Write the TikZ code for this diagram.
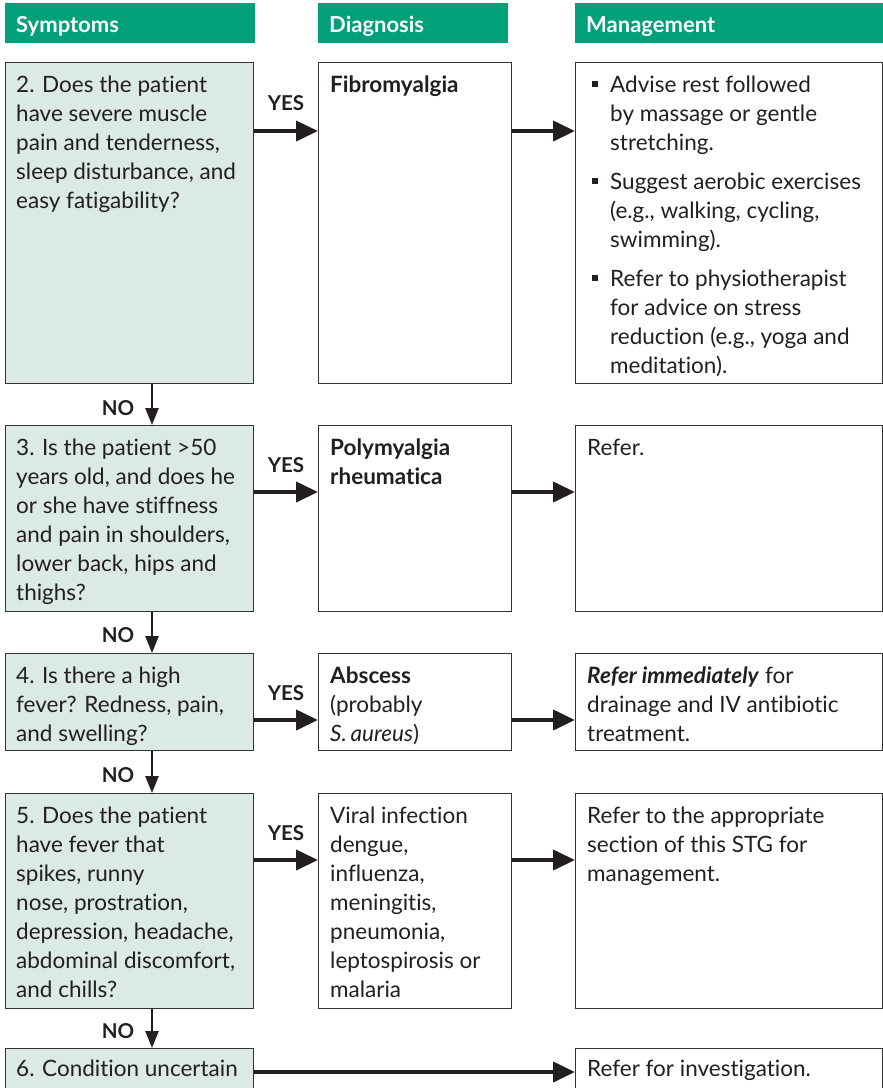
\documentclass[tikz,border=0pt]{standalone}
\usepackage{fontspec}
\setmainfont{Lato}[Ligatures={NoCommon,NoContextual}]
\usetikzlibrary{arrows.meta}
\definecolor{hdrgreen}{HTML}{00A07A}
\definecolor{symfill}{HTML}{DCEAE4}
\definecolor{edge}{HTML}{333333}
\definecolor{ink}{HTML}{231F20}
\newcommand{\bul}[1]{\makebox[18pt][l]{\raisebox{5pt}{\rule{6pt}{6pt}}}\begin{tabular}[t]{@{}l@{}}#1\end{tabular}}
\begin{document}
\begin{tikzpicture}[x=1pt,y=-1pt,
  hdr/.style={fill=hdrgreen, anchor=north west, text=white, inner xsep=11pt, inner ysep=0pt,
    minimum height=40pt, text height=18pt, text depth=0pt, align=left,
    font=\bfseries\fontsize{22}{25}\selectfont},
  symbox/.style={draw=edge, fill=symfill, line width=1pt, anchor=north west, inner sep=0pt},
  whitebox/.style={draw=edge, fill=white, line width=1pt, anchor=north west, inner sep=0pt},
  txt/.style={anchor=north west, inner xsep=11pt, inner ysep=13.5pt, align=left, text=ink,
    font=\fontsize{22.5}{29}\selectfont},
  yesarrow/.style={draw=ink, line width=4pt, -{Triangle[length=22pt,width=20pt]}},
  noarrow/.style={draw=ink, line width=2.5pt, -{Triangle[length=17pt,width=13pt]}},
  lbl/.style={text=ink, font=\bfseries\fontsize{20.5}{22}\selectfont, inner sep=0pt}
]
\useasboundingbox (0,0) rectangle (883,1088);

% column headers
\node[hdr, text width=228pt] (h1) at (5,3) {Symptoms};
\node[hdr, text width=168pt] (h2) at (318,3) {Diagnosis};
\node[hdr, text width=286pt] (h3) at (575,3) {Management};

% guides for arrow heights and the vertical NO arrows
\coordinate (nx) at (152,0);
\coordinate (a1) at (0,131);
\coordinate (a2) at (0,492);
\coordinate (a3) at (0,720);
\coordinate (a4) at (0,860);
\coordinate (a5) at (0,1072);

% row 1
\node[symbox, minimum width=248pt, minimum height=321pt] (s1) at (5,62) {};
\node[whitebox, minimum width=193pt, minimum height=321pt] (d1) at (318,62) {};
\node[whitebox, minimum width=307pt, minimum height=321pt] (m1) at (575,62) {};
\node[txt] (s1t) at (s1.north west) {2. Does the patient\\have severe muscle\\pain and tenderness,\\sleep disturbance, and\\easy fatigability?};
\node[txt, inner xsep=12pt] (d1t) at (d1.north west) {\textbf{Fibromyalgia}};
\node[txt, inner xsep=17pt, inner ysep=9.5pt] (m1t) at (m1.north west) {\bul{Advise rest followed\\by massage or gentle\\stretching.}\\[9pt]\bul{Suggest aerobic exercises\\(e.g., walking, cycling,\\swimming).}\\[9pt]\bul{Refer to physiotherapist\\for advice on stress\\reduction (e.g., yoga and\\meditation).}};

% row 2
\node[symbox, minimum width=248pt, minimum height=186pt] (s2) at (5,425) {};
\node[whitebox, minimum width=193pt, minimum height=186pt] (d2) at (318,425) {};
\node[whitebox, minimum width=307pt, minimum height=186pt] (m2) at (575,425) {};
\node[txt] (s2t) at (s2.north west) {3. Is the patient >50\\years old, and does he\\or she have stiffness\\and pain in shoulders,\\lower back, hips and\\thighs?};
\node[txt, inner xsep=12pt] (d2t) at (d2.north west) {\textbf{Polymyalgia}\\\textbf{rheumatica}};
\node[txt, inner xsep=12pt] (m2t) at (m2.north west) {Refer.};

% row 3
\node[symbox, minimum width=248pt, minimum height=97pt] (s3) at (5,653) {};
\node[whitebox, minimum width=193pt, minimum height=97pt] (d3) at (318,653) {};
\node[whitebox, minimum width=307pt, minimum height=97pt] (m3) at (575,653) {};
\node[txt] (s3t) at (s3.north west) {4. Is there a high\\fever? Redness, pain,\\and swelling?};
\node[txt, inner xsep=12pt] (d3t) at (d3.north west) {\textbf{Abscess}\\(probably\\\textit{S.\,aureus})};
\node[txt, inner xsep=12pt] (m3t) at (m3.north west) {\textbf{\textit{Refer immediately}} for\\drainage and IV antibiotic\\treatment.};

% row 4
\node[symbox, minimum width=248pt, minimum height=215pt] (s4) at (5,793) {};
\node[whitebox, minimum width=193pt, minimum height=215pt] (d4) at (318,793) {};
\node[whitebox, minimum width=307pt, minimum height=215pt] (m4) at (575,793) {};
\node[txt] (s4t) at (s4.north west) {5. Does the patient\\have fever that\\spikes, runny\\nose, prostration,\\depression, headache,\\abdominal discomfort,\\and chills?};
\node[txt, inner xsep=12pt] (d4t) at (d4.north west) {Viral infection\\dengue,\\influenza,\\meningitis,\\pneumonia,\\leptospirosis or\\malaria};
\node[txt, inner xsep=12pt] (m4t) at (m4.north west) {Refer to the appropriate\\section of this STG for\\management.};

% row 5
\node[symbox, minimum width=248pt, minimum height=80pt] (s5) at (5,1048) {};
\node[whitebox, minimum width=307pt, minimum height=80pt] (m5) at (575,1048) {};
\node[txt, inner ysep=11.5pt] (s5t) at (s5.north west) {6. Condition uncertain};
\node[txt, inner xsep=12pt, inner ysep=11.5pt] (m5t) at (m5.north west) {Refer for investigation.};

% YES arrows and diagnosis-to-management arrows
\draw[yesarrow] (s1.east |- a1) -- (d1.west |- a1);
\draw[yesarrow] (d1.east |- a1) -- (m1.west |- a1);
\draw[yesarrow] (s2.east |- a2) -- (d2.west |- a2);
\draw[yesarrow] (d2.east |- a2) -- (m2.west |- a2);
\draw[yesarrow] (s3.east |- a3) -- (d3.west |- a3);
\draw[yesarrow] (d3.east |- a3) -- (m3.west |- a3);
\draw[yesarrow] (s4.east |- a4) -- (d4.west |- a4);
\draw[yesarrow] (d4.east |- a4) -- (m4.west |- a4);
\draw[yesarrow] (s5.east |- a5) -- (m5.west |- a5);

\node[lbl] (y1) at (286,103) {YES};
\node[lbl] (y2) at (286,465) {YES};
\node[lbl] (y3) at (286,693) {YES};
\node[lbl] (y4) at (286,833) {YES};

% NO arrows
\draw[noarrow] (s1.south -| nx) -- (s2.north -| nx);
\draw[noarrow] (s2.south -| nx) -- (s3.north -| nx);
\draw[noarrow] (s3.south -| nx) -- (s4.north -| nx);
\draw[noarrow] (s4.south -| nx) -- (s5.north -| nx);
\node[lbl] (n1) at (118,408) {NO};
\node[lbl] (n2) at (118,635) {NO};
\node[lbl] (n3) at (118,775) {NO};
\node[lbl] (n4) at (118,1031) {NO};
\end{tikzpicture}
\end{document}
